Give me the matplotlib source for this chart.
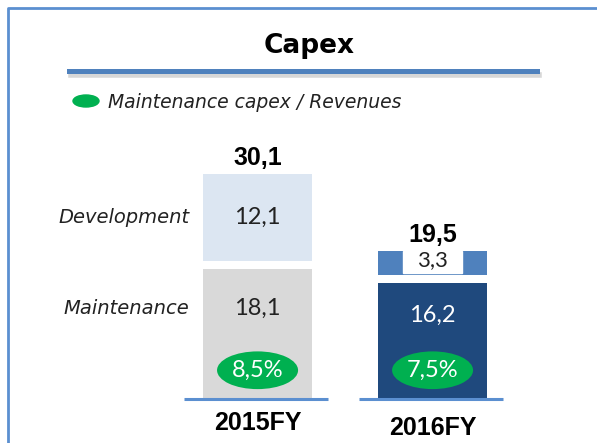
import matplotlib.pyplot as plt
from matplotlib.patches import Rectangle, Ellipse

# data
years = ['2015FY', '2016FY']
maintenance = [18.1, 16.2]
development = [12.1, 3.3]
totals = [30.1, 19.5]
maint_ratio = ['8,5%', '7,5%']
rows = ['Development', 'Maintenance']

maint_colors = ['#d9d9d9', '#1f497d']
dev_colors = ['#dce6f2', '#4f81bd']
maint_text = ['#222222', 'white']

W, H = 597, 443
fig = plt.figure(figsize=(W / 100, H / 100), dpi=100)
plt.rcParams['font.family'] = ['Lato', 'DejaVu Sans']

# frame, title and legend in a pixel-space overlay
bg = fig.add_axes([0, 0, 1, 1])
bg.set_xlim(0, W)
bg.set_ylim(H, 0)
bg.axis('off')
bg.plot([8, 8, W], [H, 8, 8], color='#5b8fd0', lw=2)
bg.text(309, 46, 'Capex', ha='center', va='center', fontsize=19,
        fontweight='bold', family='DejaVu Sans')
bg.plot([71, 539], [75, 75], color='#b0b0b0', lw=4, alpha=0.5)
bg.plot([69, 537], [71, 71], color='#4f81bd', lw=3.6)
bg.add_patch(Ellipse((86, 101), 26, 12, color='#00b050'))
bg.text(108, 102, 'Maintenance capex / Revenues', ha='left', va='center',
        fontsize=13.5, style='italic', family='DejaVu Sans', color='#222222')

# bars
ax = fig.add_axes([183 / W, 44 / H, 318 / W, 230 / H])
ax.set_xlim(-0.426, 1.391)
ax.set_ylim(0, 32)
ax.axis('off')

x = [0, 1]
w = 0.623
gap = 1.1
dev_bottom = [m + gap for m in maintenance]
ax.bar(x, maintenance, width=w, color=maint_colors)
ax.bar(x, development, width=w, bottom=dev_bottom, color=dev_colors)

for i in x:
    ax.hlines(0, i - 0.42, i + 0.4, color='#5b8fd0', lw=2.2, clip_on=False)
    ax.text(i, maintenance[i] * 0.5 + 3.5, f'{maintenance[i]:.1f}'.replace('.', ','),
            ha='center', va='center', fontsize=17, color=maint_text[i])
    ax.text(i, 4.0, maint_ratio[i], ha='center', va='center', fontsize=17,
            color='white',
            bbox=dict(boxstyle='ellipse,pad=0.12', fc='#00b050', ec='none'))
    top = dev_bottom[i] + development[i]
    ax.text(i, top + 2.2, f'{totals[i]:.1f}'.replace('.', ','), ha='center',
            va='center', fontsize=18, fontweight='bold', family='Liberation Sans')
    ax.text(i, -1.7 - 0.6 * i, years[i], ha='center', va='top', fontsize=18,
            fontweight='bold', family='Liberation Sans')

# development labels: 2015 inside the bar, 2016 on a white patch
ax.text(0, dev_bottom[0] + development[0] / 2, '12,1', ha='center',
        va='center', fontsize=17, color='#222222')
ax.add_patch(Rectangle((1 - 0.17, dev_bottom[1] + 0.3), 0.34,
                       development[1] - 0.3, color='white'))
ax.text(1, dev_bottom[1] + development[1] / 2 + 0.4, '3,3', ha='center',
        va='center', fontsize=16, color='#222222')

# row labels
ax.text(-0.39, dev_bottom[0] + development[0] / 2, rows[0], ha='right',
        va='center', fontsize=14, style='italic', family='DejaVu Sans',
        color='#222222')
ax.text(-0.39, maintenance[0] * 0.5 + 3.5, rows[1], ha='right',
        va='center', fontsize=14, style='italic', family='DejaVu Sans',
        color='#222222')

fig.savefig('out.png', dpi=100)
